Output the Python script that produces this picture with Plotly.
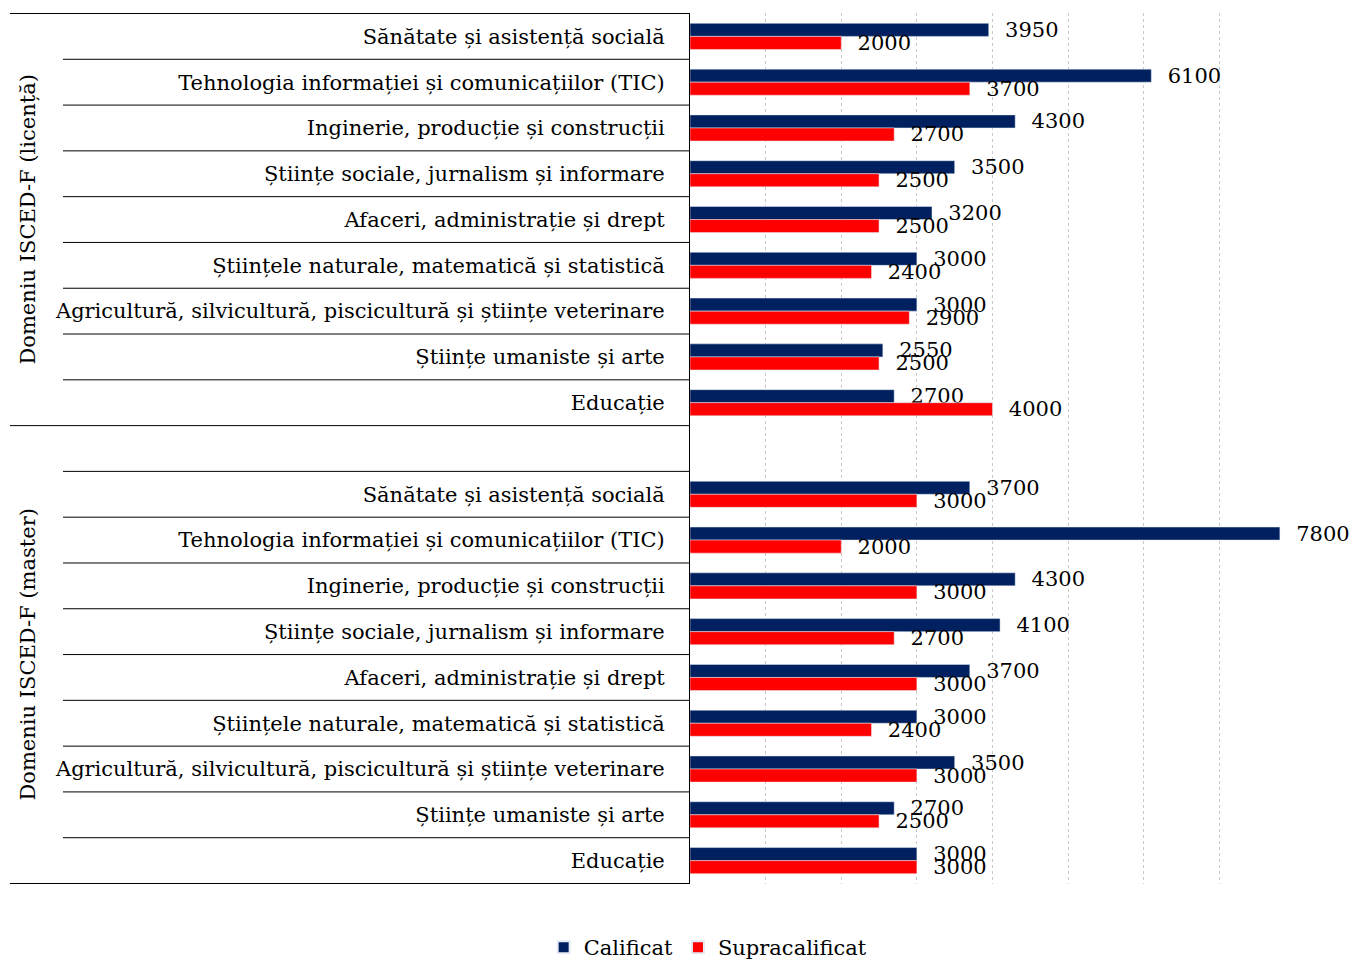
import plotly.graph_objects as go

FONT = "DejaVu Serif"
NAVY = "#002060"
RED = "#FF0000"

categories = [
    "Sănătate și asistență socială",
    "Tehnologia informației și comunicațiilor (TIC)",
    "Inginerie, producție și construcții",
    "Științe sociale, jurnalism și informare",
    "Afaceri, administrație și drept",
    "Științele naturale, matematică și statistică",
    "Agricultură, silvicultură, piscicultură și științe veterinare",
    "Științe umaniste și arte",
    "Educație",
]
groups = ["Domeniu ISCED-F (licență)", "Domeniu ISCED-F (master)"]

licenta_calificat = [3950, 6100, 4300, 3500, 3200, 3000, 3000, 2550, 2700]
licenta_supra = [2000, 3700, 2700, 2500, 2500, 2400, 2900, 2500, 4000]
master_calificat = [3700, 7800, 4300, 4100, 3700, 3000, 3500, 2700, 3000]
master_supra = [3000, 2000, 3000, 2700, 3000, 2400, 3000, 2500, 3000]

# unique category keys: master rows get a zero-width suffix, plus a blank spacer row
blank = "\u200b"
master_cats = [c + "\u200b" for c in categories]
y_cats = categories + [blank] + master_cats

calificat = licenta_calificat + [None] + master_calificat
supra = licenta_supra + [None] + master_supra

pad = "\u00a0\u00a0"
FS = 21

fig = go.Figure()
fig.add_trace(go.Bar(
    y=y_cats, x=calificat, orientation="h", name="Calificat",
    marker_color=NAVY,
    text=[pad + str(v) if v is not None else "" for v in calificat],
    textposition="outside", constraintext="none", cliponaxis=False,
    textfont=dict(family=FONT, size=FS, color="black"),
))
fig.add_trace(go.Bar(
    y=y_cats, x=supra, orientation="h", name="Supracalificat",
    marker_color=RED,
    text=[pad + str(v) if v is not None else "" for v in supra],
    textposition="outside", constraintext="none", cliponaxis=False,
    textfont=dict(family=FONT, size=FS, color="black"),
))

# table lines on the left side
x_inner = (63 - 690) / 605
x_outer = (10 - 690) / 605
n = len(y_cats)
for i in range(n + 1):
    yv = i - 0.5
    outer = i in (0, len(categories), n)
    fig.add_shape(type="line", xref="paper", yref="y",
                  x0=x_outer if outer else x_inner, x1=0, y0=yv, y1=yv,
                  line=dict(color="black", width=1))

# group labels
fig.add_annotation(text=groups[0], xref="paper", yref="y", x=(28 - 690) / 605,
                   xanchor="center", yanchor="middle",
                   y=(len(categories) - 1) / 2, textangle=-90, showarrow=False,
                   font=dict(family=FONT, size=FS, color="black"))
fig.add_annotation(text=groups[1], xref="paper", yref="y", x=(28 - 690) / 605,
                   xanchor="center", yanchor="middle",
                   y=len(categories) + len(categories) / 2, textangle=-90, showarrow=False,
                   font=dict(family=FONT, size=FS, color="black"))

# page body has an 8px margin, so the figure is 8px smaller
fig.update_layout(
    width=1352, height=953,
    margin=dict(l=682, r=65, t=5, b=77, autoexpand=False),
    paper_bgcolor="white", plot_bgcolor="white",
    barmode="group", bargap=0.43, bargroupgap=0,
    font=dict(family=FONT, size=FS, color="black"),
    showlegend=True,
    legend=dict(orientation="h", x=0.03, xanchor="center", y=-0.073, yanchor="middle",
                font=dict(family=FONT, size=FS, color="black"), itemsizing="constant"),
)
fig.update_xaxes(range=[0, 8000], dtick=1000, showticklabels=False, showgrid=True,
                 gridcolor="#c8c8c8", griddash="dot", gridwidth=1, zeroline=False,
                 showline=False, automargin=False)
fig.update_yaxes(type="category", categoryorder="array", categoryarray=y_cats,
                 autorange="reversed", showline=True, linecolor="black", linewidth=1,
                 showgrid=False, ticks="", ticklabelstandoff=20, automargin=False,
                 tickfont=dict(family=FONT, size=FS, color="black"))

fig.write_html("out.html")
